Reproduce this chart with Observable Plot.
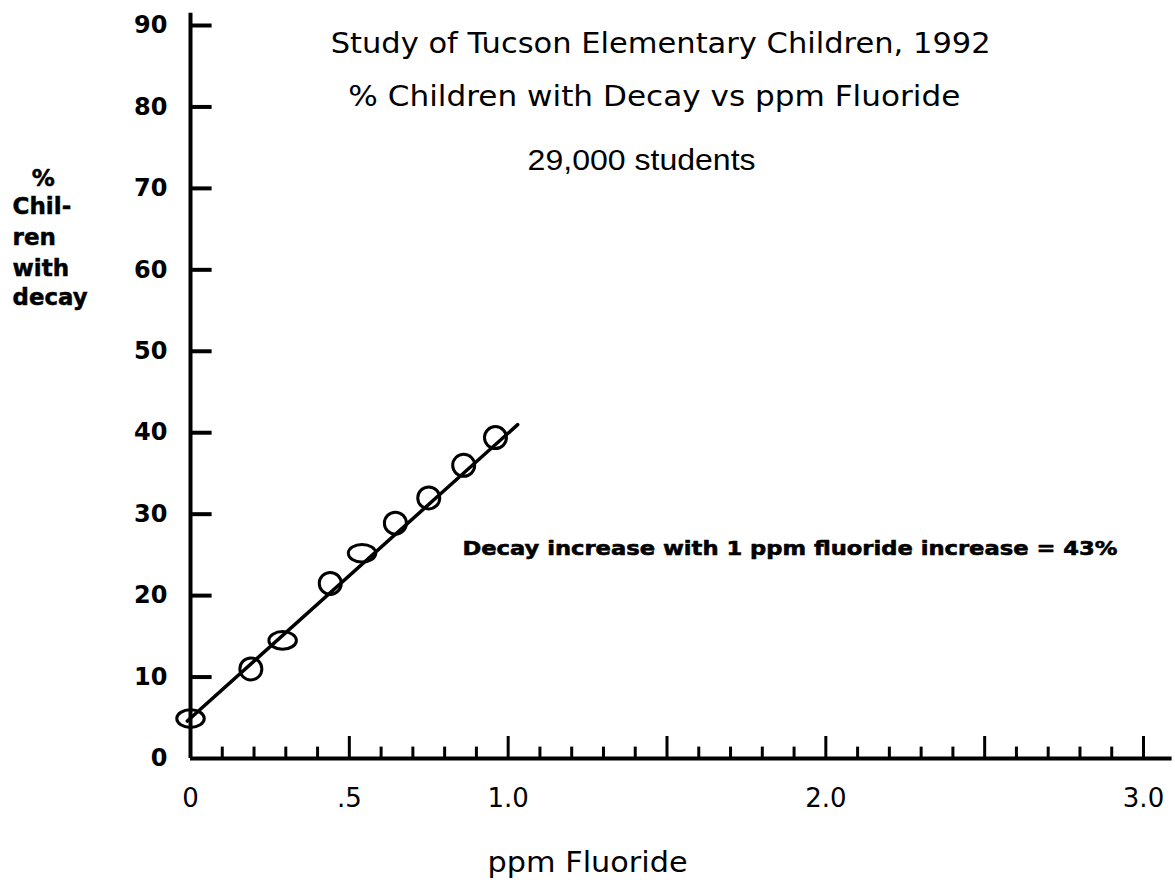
<!DOCTYPE html>
<html>
<head>
<meta charset="utf-8">
<script src="https://cdn.jsdelivr.net/npm/d3@7"></script>
<script src="https://cdn.jsdelivr.net/npm/@observablehq/plot@0.6"></script>
<style>
  html, body { margin: 0; padding: 0; background: #fff; }
  #chart svg { display: block; }
</style>
</head>
<body>
<div id="chart"></div>
<script>
// ---- data ----
const fluoridePpm = [0, 0.19, 0.29, 0.44, 0.54, 0.645, 0.75, 0.86, 0.96];
const decayPercent = [4.9, 11, 14.5, 21.5, 25.2, 28.9, 32, 36, 39.4];
const fitPpm = [-0.01, 1.03];
const fitPercent = [4.6, 41];
const yTickValues = [10, 20, 30, 40, 50, 60, 70, 80, 90];
const yLabelValues = [0, 10, 20, 30, 40, 50, 60, 70, 80, 90];
const xMinorTicks = [0.1, 0.2, 0.3, 0.4, 0.6, 0.7, 0.8, 0.9, 1.1, 1.2, 1.3, 1.4, 1.6, 1.7, 1.8, 1.9,
                     2.1, 2.2, 2.3, 2.4, 2.6, 2.7, 2.8, 2.9];
const xMajorTicks = [0.5, 1.0, 1.5, 2.0, 2.5, 3.0];
const xLabelValues = [0, 0.5, 1.0, 2.0, 3.0];
const xLabelTexts = ["0", ".5", "1.0", "2.0", "3.0"];
const titleLines = ["Study of Tucson Elementary Children, 1992", "% Children with Decay vs ppm Fluoride", "29,000 students"];
const yTitleLines = ["%", "Chil-", "ren", "with", "decay"];
const xTitle = "ppm Fluoride";
const note = "Decay increase with 1 ppm fluoride increase = 43%";

// which hand-drawn markers look flattened (index into the arrays above)
const flattenedMarkers = [0, 2, 4];

const points = fluoridePpm.map((x, i) => ({x, y: decayPercent[i], flat: flattenedMarkers.includes(i)}));
const fit = fitPpm.map((x, i) => ({x, y: fitPercent[i]}));
const xLabels = xLabelValues.map((v, i) => ({v, t: xLabelTexts[i]}));

// annotation anchors (data coordinates)
const titleAnchors = [{x: 1.48, y: 87.8}, {x: 1.46, y: 81.2}, {x: 1.42, y: 73.4}];
const yTitleAnchors = [{x: -0.5, y: 71.2}, {x: -0.56, y: 67.8}, {x: -0.56, y: 64.0}, {x: -0.56, y: 60.2}, {x: -0.56, y: 56.6}];

const titles = titleLines.map((t, i) => ({t, ...titleAnchors[i]}));
const yTitles = yTitleLines.map((t, i) => ({t, ...yTitleAnchors[i]}));

// a flattened ellipse marker
const ellipseSymbol = {
  draw(ctx, size) {
    const r = Math.sqrt(size / Math.PI);
    const rx = 1.25 * r, ry = 0.8 * r, k = 0.5523;
    ctx.moveTo(rx, 0);
    ctx.bezierCurveTo(rx, k * ry, k * rx, ry, 0, ry);
    ctx.bezierCurveTo(-k * rx, ry, -rx, k * ry, -rx, 0);
    ctx.bezierCurveTo(-rx, -k * ry, -k * rx, -ry, 0, -ry);
    ctx.bezierCurveTo(k * rx, -ry, rx, -k * ry, rx, 0);
    ctx.closePath();
  }
};

const plot = Plot.plot({
  width: 1175,
  height: 888,
  marginLeft: 190,
  marginRight: 32,
  marginTop: 25,
  marginBottom: 130,
  x: {domain: [0, 3], axis: null},
  y: {domain: [0, 90], axis: null},
  style: {background: "white", color: "black", fontFamily: "DejaVu Sans"},
  marks: [
    // axes
    Plot.ruleX([0], {y1: 0, y2: 91.5, stroke: "black", strokeWidth: 4}),
    Plot.ruleY([0], {x1: 0, x2: 3.09, stroke: "black", strokeWidth: 4}),
    Plot.ruleY(yTickValues, {y: d => d, x1: 0, x2: 0.068, stroke: "black", strokeWidth: 4}),
    Plot.ruleX(xMinorTicks, {x: d => d, y1: 0, y2: 1.4, stroke: "black", strokeWidth: 3}),
    Plot.ruleX(xMajorTicks, {x: d => d, y1: 0, y2: 2.7, stroke: "black", strokeWidth: 3}),
    Plot.text(yLabelValues, {x: 0, y: d => d, text: d => String(d), dx: -23, textAnchor: "end",
      fontSize: 24, fontWeight: "bold", fontFamily: "DejaVu Sans", fill: "black"}),
    Plot.text(xLabels, {x: "v", y: 0, text: "t", dy: 40, fontSize: 26, fontFamily: "DejaVu Sans", fill: "black"}),
    // data
    Plot.line(fit, {x: "x", y: "y", stroke: "black", strokeWidth: 3.5}),
    Plot.dot(points, {filter: d => !d.flat, x: "x", y: "y", r: 11, stroke: "black", strokeWidth: 3, fill: "none"}),
    Plot.dot(points, {filter: d => d.flat, x: "x", y: "y", r: 11, symbol: ellipseSymbol, stroke: "black", strokeWidth: 3, fill: "none"}),
    // text
    Plot.text(titles, {x: "x", y: "y", text: "t", fontSize: 29, fontFamily: "DejaVu Sans", fill: "black"}),
    Plot.text([note], {x: 0.856, y: 25.8, text: d => d, textAnchor: "start", fontSize: 20,
      fontWeight: "bold", fontFamily: "DejaVu Sans", fill: "black", stroke: "black", strokeWidth: 0.6}),
    Plot.text(yTitles, {x: "x", y: "y", text: "t", textAnchor: "start", fontSize: 23,
      fontWeight: "bold", fontFamily: "DejaVu Sans", fill: "black", stroke: "black", strokeWidth: 0.5}),
    Plot.text([xTitle], {x: 1.25, y: -12.8, text: d => d, fontSize: 29, fontFamily: "DejaVu Sans", fill: "black"})
  ]
});
document.getElementById("chart").appendChild(plot);

// fit some annotation widths to the reference
const widths = new Map([
  [titleLines[0], 660], [titleLines[1], 612], [titleLines[2], 228],
  [note, 655], [xTitle, 200], ["decay", 75]
]);
d3.select(plot).selectAll("text").each(function () {
  const w = widths.get(this.textContent);
  if (w) { this.setAttribute("textLength", w); this.setAttribute("lengthAdjust", "spacingAndGlyphs"); }
});
d3.select(plot).selectAll("text").filter(function () { return this.textContent === titleLines[2]; })
  .attr("font-family", "Liberation Sans");
</script>
</body>
</html>
